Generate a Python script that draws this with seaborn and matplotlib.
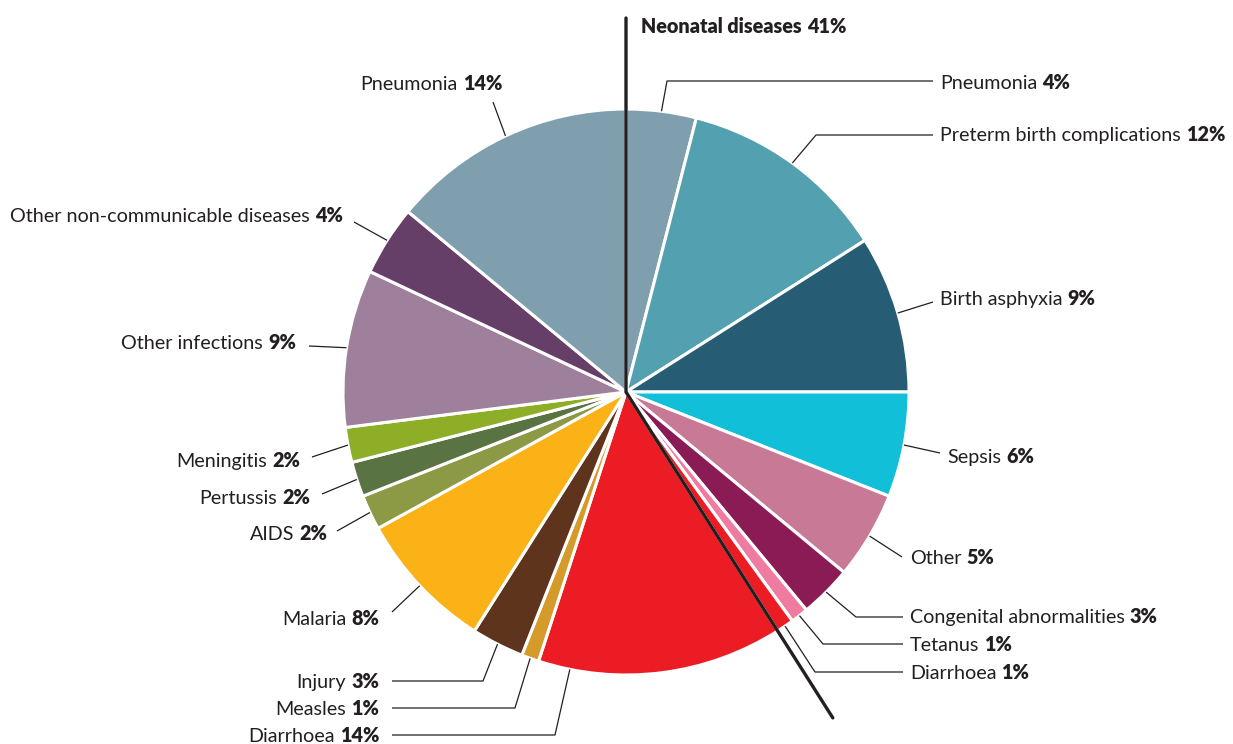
import numpy as np
import matplotlib

matplotlib.use("Agg")
import matplotlib.pyplot as plt
import seaborn as sns

# causes of under-five deaths, clockwise from 12 o'clock
causes = [
    "Pneumonia", "Preterm birth complications", "Birth asphyxia", "Sepsis", "Other",
    "Congenital abnormalities", "Tetanus", "Diarrhoea",
    "Diarrhoea", "Measles", "Injury", "Malaria", "AIDS", "Pertussis", "Meningitis",
    "Other infections", "Other non-communicable diseases", "Pneumonia",
]
shares = [4, 12, 9, 6, 5, 3, 1, 1, 14, 1, 3, 8, 2, 2, 2, 9, 4, 14]
neonatal = [True] * 8 + [False] * 10
colors = [
    "#7F9FAF", "#52A0B0", "#265C74", "#12BFD8", "#C87996", "#8A1B55", "#F07BA0", "#EC1C24",
    "#EC1C24", "#D49A2A", "#5E341C", "#FBB216", "#8C9A46", "#5A7343", "#8EAE28",
    "#9E7F9C", "#663F69", "#7F9FAF",
]
title = "Neonatal diseases"

W, H = 1233, 744
CX, CY, R = 626, 392, 283
INK = "#231F20"

# label layout in pixels: text x, baseline y, side, leader path (after the wedge point), anchor frac
layout = [
    (940, 89, "l", [(667, 81), (933, 81)], 0.5),
    (940, 141, "l", [(816, 135), (933, 135)], 0.5),
    (940, 305, "l", [(933, 302)], 0.5),
    (947, 463, "l", [(940, 453)], 0.5),
    (910, 564, "l", [(902, 557)], 0.5),
    (910, 623, "l", [(856, 617), (903, 617)], 0.5),
    (910, 651, "l", [(823, 644), (903, 644)], 0.5),
    (910, 679, "l", [(815, 672), (903, 672)], 0.5),
    (379, 742, "r", [(555, 735), (392, 735)], 0.87),
    (379, 715, "r", [(515, 708), (392, 708)], 0.5),
    (379, 688, "r", [(483, 681), (392, 681)], 0.5),
    (379, 625, "r", [(392, 612)], 0.5),
    (327, 540, "r", [(337, 531)], 0.5),
    (310, 504, "r", [(322, 494)], 0.5),
    (300, 467, "r", [(312, 457)], 0.5),
    (296, 349, "r", [(309, 346)], 0.5),
    (343, 222, "r", [(354, 222)], 0.5),
    (502, 90, "r", [(493, 102)], 0.5),
]


def px(x, y):
    return x, H - y


sns.set_theme(style="white")
plt.rcParams["font.family"] = ["Lato", "DejaVu Sans"]
FS = 14.2
BOLD = "heavy"

fig = plt.figure(figsize=(W / 100, H / 100), dpi=100)
ax = fig.add_axes([0, 0, 1, 1])

ax.pie(
    shares,
    colors=colors,
    startangle=90,
    counterclock=False,
    center=px(CX, CY),
    radius=R,
    wedgeprops=dict(edgecolor="white", linewidth=2.2),
    frame=True,
)

total = sum(shares)
bounds = np.concatenate([[0], np.cumsum(shares)]) / total

for i, (name, val) in enumerate(zip(causes, shares)):
    tx, ty, side, path, frac = layout[i]
    f = bounds[i] + frac * (bounds[i + 1] - bounds[i])
    ang = np.deg2rad(90 - 360 * f)
    start = (CX + R * np.cos(ang), CY - R * np.sin(ang))
    pts = [start] + path
    xs, ys = zip(*[px(*p) for p in pts])
    ax.plot(xs, ys, color=INK, lw=0.9, solid_capstyle="butt")
    if side == "l":
        t = ax.text(*px(tx, ty), name, ha="left", va="baseline", fontsize=FS, color=INK)
        ax.annotate(f"{val}%", xy=(1, 0), xycoords=t, xytext=(5, 0), textcoords="offset pixels",
                    ha="left", va="bottom", fontsize=FS, fontweight=BOLD, color=INK)
    else:
        t = ax.text(*px(tx, ty), f"{val}%", ha="right", va="baseline", fontsize=FS,
                    fontweight=BOLD, color=INK)
        ax.annotate(name, xy=(0, 0), xycoords=t, xytext=(-5, 0), textcoords="offset pixels",
                    ha="right", va="bottom", fontsize=FS, color=INK)

# neonatal divider: from the top through the centre to the end of the neonatal block
neo_share = sum(s for s, n in zip(shares, neonatal) if n)
end_ang = np.deg2rad(90 - 360 * neo_share / total)
L = 386
ex, ey = CX + L * np.cos(end_ang), CY - L * np.sin(end_ang)
xs, ys = zip(*[px(CX, 18), px(CX, CY), px(ex, ey)])
ax.plot(xs, ys, color=INK, lw=2.4, solid_joinstyle="miter")

tt = ax.text(*px(641, 33), title, ha="left", va="baseline", fontsize=FS,
             fontweight=BOLD, color=INK)
ax.annotate(f"{neo_share}%", xy=(1, 0), xycoords=tt, xytext=(5, 0), textcoords="offset pixels",
            ha="left", va="bottom", fontsize=FS, fontweight=BOLD, color=INK)

ax.set_xlim(0, W)
ax.set_ylim(0, H)
ax.set_aspect("auto")
ax.axis("off")

fig.savefig("out.png", dpi=100, facecolor="white")
